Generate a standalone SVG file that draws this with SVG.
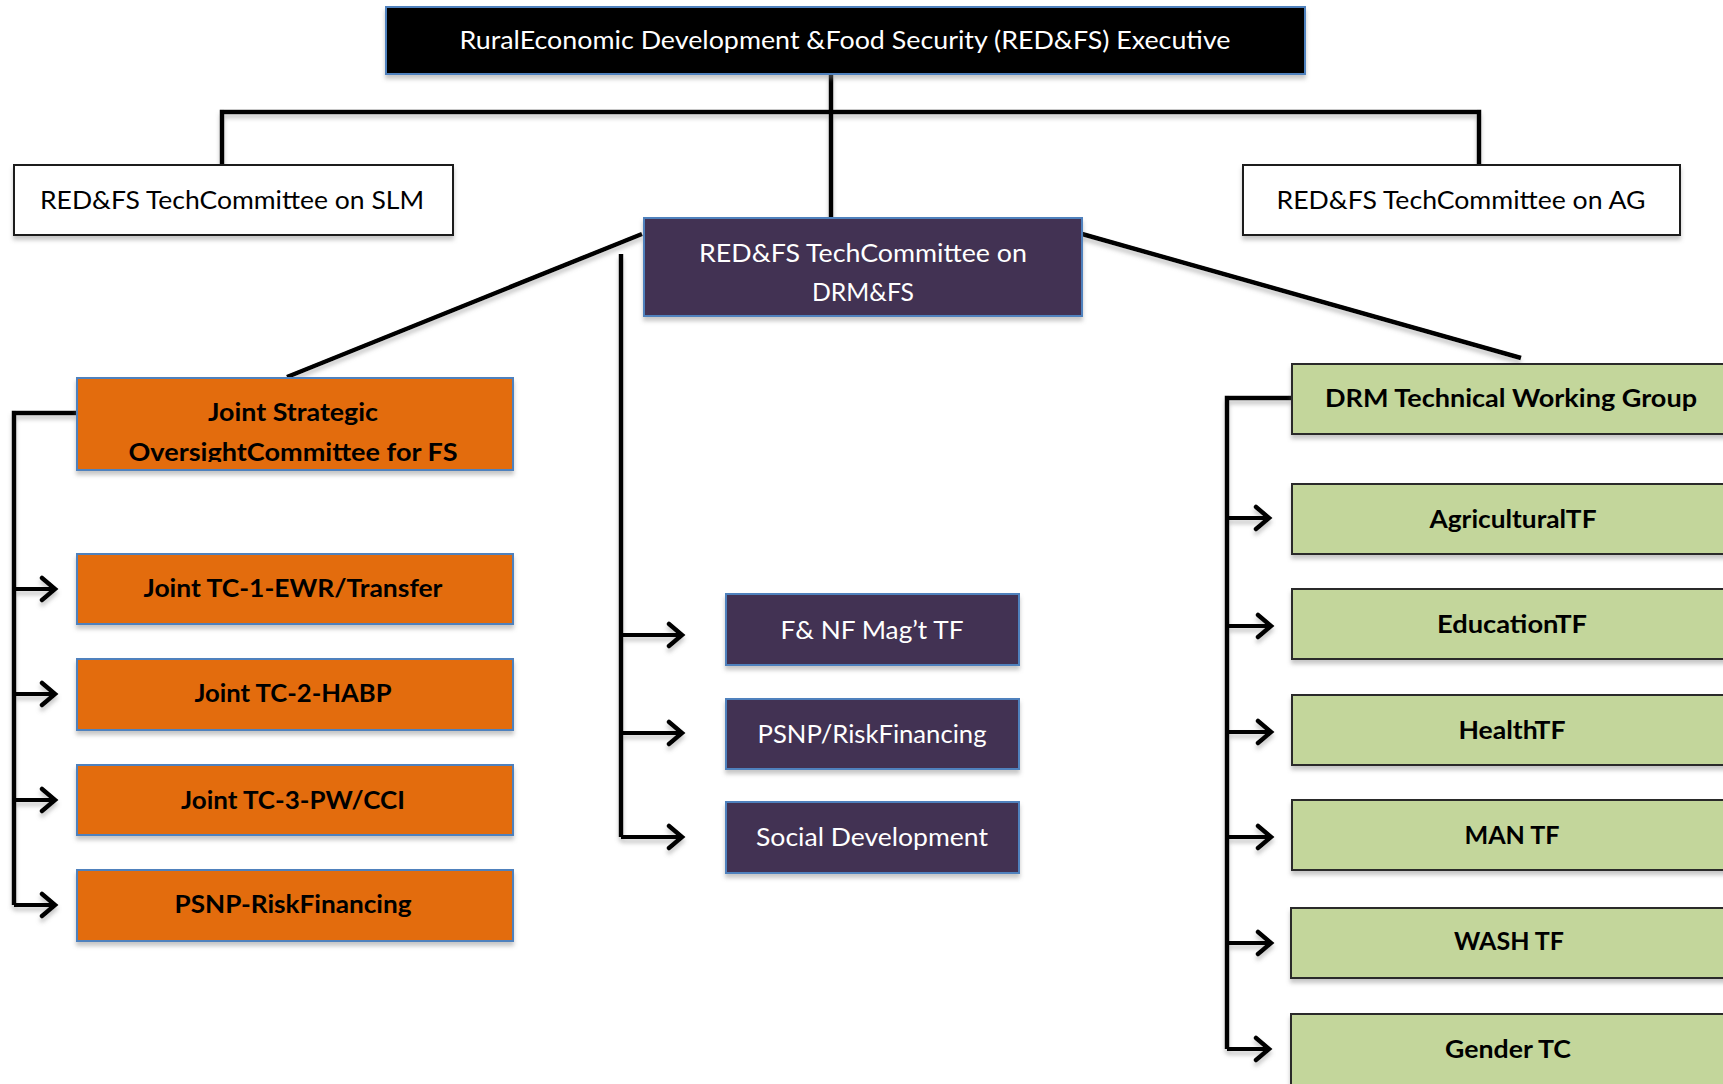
<svg xmlns="http://www.w3.org/2000/svg" width="1723" height="1084" viewBox="0 0 1723 1084">
  <style>
    .t { font-family: Lato, "Open Sans", "Liberation Sans", sans-serif; font-size: 25px; text-anchor: middle; dominant-baseline: central; }
    .b { font-weight: bold; }
    .w { fill: #ffffff; }
    .k { fill: #000000; }
    .exec { fill: #000000; stroke: #4f81bd; stroke-width: 2; }
    .plain { fill: #ffffff; stroke: #1a1a1a; stroke-width: 2; }
    .purple { fill: #433152; stroke: #4f81bd; stroke-width: 2; }
    .orange { fill: #e36c0a; stroke: #4f81bd; stroke-width: 2; }
    .green { fill: #c3d69b; stroke: #2a2a2a; stroke-width: 2; }
    .line { fill: none; stroke: #000000; stroke-width: 4.5; stroke-linejoin: miter; }
    .arrow { fill: none; stroke: #000000; stroke-width: 4; marker-end: url(#chev); }
  </style>
  <defs>
    <filter id="sh" x="-5%" y="-10%" width="110%" height="130%">
      <feDropShadow dx="0" dy="4" stdDeviation="2" flood-color="#808080" flood-opacity="0.45"/>
    </filter>
    <marker id="chev" viewBox="-16 -14 20 28" markerWidth="20" markerHeight="28" refX="0" refY="0" orient="auto" markerUnits="userSpaceOnUse">
      <path d="M-13,-11 L0,0 L-13,11" fill="none" stroke="#000000" stroke-width="4.5" stroke-linecap="round"/>
    </marker>
    <!-- second line of the oversight label is cut off at its baseline -->
    <clipPath id="jsClip"><rect x="77" y="378" width="436" height="84"/></clipPath>
  </defs>
  <rect width="1723" height="1084" fill="#ffffff"/>

  <!-- connectors -->
  <g id="connectors" filter="url(#sh)">
    <path class="line" d="M831,74 V218"/>
    <path class="line" d="M222,165 V112 H1479 V165"/>
    <path class="line" d="M642,234 L287,377"/>
    <path class="line" d="M1082,234 L1521,358"/>
    <!-- Joint committee branch -->
    <path class="line" d="M77,413 H14 V905"/>
    <path class="arrow" d="M14,589 H55"/>
    <path class="arrow" d="M14,694 H55"/>
    <path class="arrow" d="M14,800 H55"/>
    <path class="arrow" d="M14,905 H55"/>
    <!-- DRM&FS task forces -->
    <path class="line" d="M621,254 V837"/>
    <path class="arrow" d="M621,635 H682"/>
    <path class="arrow" d="M621,733 H682"/>
    <path class="arrow" d="M621,837 H682"/>
    <!-- DRM TWG branch -->
    <path class="line" d="M1292,398 H1227 V1049"/>
    <path class="arrow" d="M1227,518 H1269"/>
    <path class="arrow" d="M1227,626 H1271"/>
    <path class="arrow" d="M1227,732 H1271"/>
    <path class="arrow" d="M1227,837 H1271"/>
    <path class="arrow" d="M1227,943 H1271"/>
    <path class="arrow" d="M1227,1049 H1269"/>
  </g>

  <!-- top level -->
  <g id="exec">
    <rect class="exec" x="386" y="7" width="919" height="67" filter="url(#sh)"/>
    <text class="t w" x="845" y="39" textLength="771" lengthAdjust="spacingAndGlyphs">RuralEconomic Development &amp;Food Security (RED&amp;FS) Executive</text>
  </g>

  <!-- technical committees -->
  <g id="tc-slm">
    <rect class="plain" x="14" y="165" width="439" height="70" filter="url(#sh)"/>
    <text class="t k" x="232" y="199" textLength="384" lengthAdjust="spacingAndGlyphs">RED&amp;FS TechCommittee on SLM</text>
  </g>
  <g id="tc-ag">
    <rect class="plain" x="1243" y="165" width="437" height="70" filter="url(#sh)"/>
    <text class="t k" x="1461" y="199" textLength="369" lengthAdjust="spacingAndGlyphs">RED&amp;FS TechCommittee on AG</text>
  </g>
  <g id="tc-drmfs">
    <rect class="purple" x="644" y="218" width="438" height="98" filter="url(#sh)"/>
    <text class="t w" x="863" y="252" textLength="328" lengthAdjust="spacingAndGlyphs">RED&amp;FS TechCommittee on</text>
    <text class="t w" x="863" y="291" textLength="102" lengthAdjust="spacingAndGlyphs">DRM&amp;FS</text>
  </g>

  <!-- joint committees -->
  <g id="jsoc">
    <rect class="orange" x="77" y="378" width="436" height="92" filter="url(#sh)"/>
    <g clip-path="url(#jsClip)">
      <text class="t b k" x="293" y="411" textLength="170" lengthAdjust="spacingAndGlyphs">Joint Strategic</text>
      <text class="t b k" x="293" y="451" textLength="329" lengthAdjust="spacingAndGlyphs">OversightCommittee for FS</text>
    </g>
  </g>
  <g id="jtc1">
    <rect class="orange" x="77" y="554" width="436" height="70" filter="url(#sh)"/>
    <text class="t b k" x="293" y="587" textLength="299" lengthAdjust="spacingAndGlyphs">Joint TC-1-EWR/Transfer</text>
  </g>
  <g id="jtc2">
    <rect class="orange" x="77" y="659" width="436" height="71" filter="url(#sh)"/>
    <text class="t b k" x="293" y="692" textLength="197" lengthAdjust="spacingAndGlyphs">Joint TC-2-HABP</text>
  </g>
  <g id="jtc3">
    <rect class="orange" x="77" y="765" width="436" height="70" filter="url(#sh)"/>
    <text class="t b k" x="293" y="799" textLength="224" lengthAdjust="spacingAndGlyphs">Joint TC-3-PW/CCI</text>
  </g>
  <g id="psnp-rf">
    <rect class="orange" x="77" y="870" width="436" height="71" filter="url(#sh)"/>
    <text class="t b k" x="293" y="903" textLength="237" lengthAdjust="spacingAndGlyphs">PSNP-RiskFinancing</text>
  </g>

  <!-- DRM&FS task forces -->
  <g id="fnf">
    <rect class="purple" x="726" y="594" width="293" height="71" filter="url(#sh)"/>
    <text class="t w" x="872" y="629" textLength="183" lengthAdjust="spacingAndGlyphs">F&amp; NF Mag’t TF</text>
  </g>
  <g id="psnp">
    <rect class="purple" x="726" y="699" width="293" height="70" filter="url(#sh)"/>
    <text class="t w" x="872" y="733" textLength="229" lengthAdjust="spacingAndGlyphs">PSNP/RiskFinancing</text>
  </g>
  <g id="social">
    <rect class="purple" x="726" y="802" width="293" height="71" filter="url(#sh)"/>
    <text class="t w" x="872" y="836" textLength="232" lengthAdjust="spacingAndGlyphs">Social Development</text>
  </g>

  <!-- DRM technical working group -->
  <g id="drm-twg">
    <rect class="green" x="1292" y="364" width="438" height="70" filter="url(#sh)"/>
    <text class="t b k" x="1511" y="397" textLength="372" lengthAdjust="spacingAndGlyphs">DRM Technical Working Group</text>
  </g>
  <g id="agri">
    <rect class="green" x="1292" y="484" width="438" height="70" filter="url(#sh)"/>
    <text class="t b k" x="1513" y="518" textLength="167" lengthAdjust="spacingAndGlyphs">AgriculturalTF</text>
  </g>
  <g id="edu">
    <rect class="green" x="1292" y="589" width="438" height="70" filter="url(#sh)"/>
    <text class="t b k" x="1512" y="623" textLength="150" lengthAdjust="spacingAndGlyphs">EducationTF</text>
  </g>
  <g id="health">
    <rect class="green" x="1292" y="695" width="438" height="70" filter="url(#sh)"/>
    <text class="t b k" x="1512" y="729" textLength="107" lengthAdjust="spacingAndGlyphs">HealthTF</text>
  </g>
  <g id="man">
    <rect class="green" x="1292" y="800" width="438" height="70" filter="url(#sh)"/>
    <text class="t b k" x="1512" y="834" textLength="95" lengthAdjust="spacingAndGlyphs">MAN TF</text>
  </g>
  <g id="wash">
    <rect class="green" x="1291" y="908" width="438" height="70" filter="url(#sh)"/>
    <text class="t b k" x="1509" y="940" textLength="110" lengthAdjust="spacingAndGlyphs">WASH TF</text>
  </g>
  <g id="gender">
    <rect class="green" x="1291" y="1014" width="438" height="80" filter="url(#sh)"/>
    <text class="t b k" x="1508" y="1048" textLength="126" lengthAdjust="spacingAndGlyphs">Gender TC</text>
  </g>
</svg>
